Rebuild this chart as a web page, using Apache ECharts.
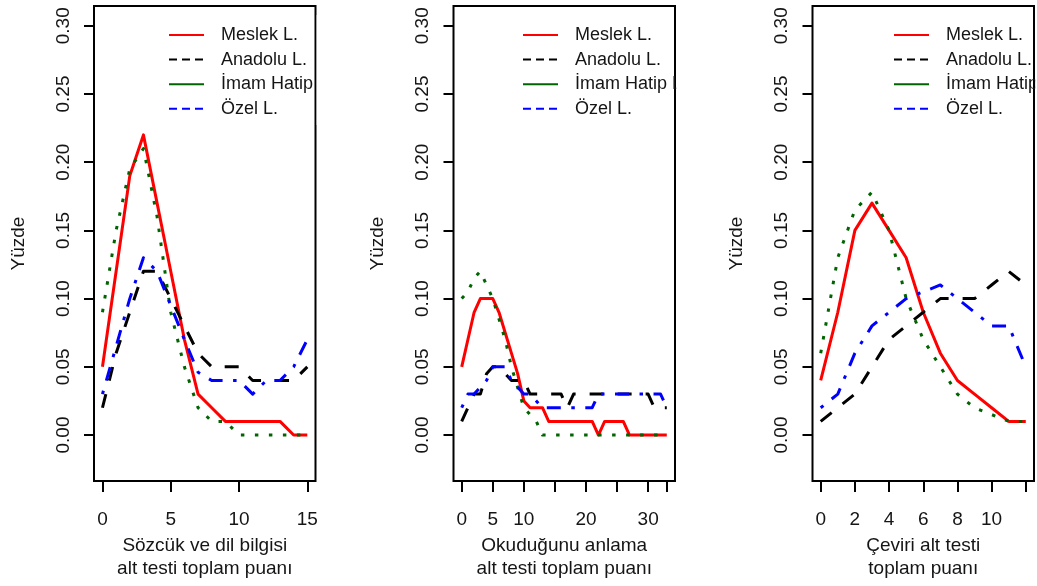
<!DOCTYPE html>
<html>
<head>
<meta charset="utf-8">
<script src="https://cdn.jsdelivr.net/npm/echarts@6/dist/echarts.min.js"></script>
<style>
html,body{margin:0;padding:0;background:#ffffff;}
#chart{width:1037px;height:586px;}
</style>
</head>
<body>
<div id="chart"></div>
<script>
// ---------- data ----------
const groupNames = ['Meslek L.', 'Anadolu L.', 'İmam Hatip L.', 'Özel L.'];

const p1X = [0,1,2,3,4,5,6,7,8,9,10,11,12,13,14,15];
const p1Meslek  = [0.05,0.12,0.19,0.22,0.17,0.12,0.07,0.03,0.02,0.01,0.01,0.01,0.01,0.01,0.00,0.00];
const p1Anadolu = [0.02,0.06,0.09,0.12,0.12,0.10,0.08,0.06,0.05,0.05,0.05,0.04,0.04,0.04,0.04,0.05];
const p1Imam    = [0.09,0.15,0.195,0.21,0.16,0.09,0.05,0.02,0.01,0.01,0.00,0.00,0.00,0.00,0.00,0.00];
const p1Ozel    = [0.03,0.065,0.10,0.13,0.12,0.095,0.07,0.046,0.04,0.04,0.04,0.03,0.04,0.04,0.05,0.07];

const p2X = [0,1,2,3,4,5,6,7,8,9,10,11,12,13,14,15,16,17,18,19,20,21,22,23,24,25,26,27,28,29,30,31,32,33];
const p2Meslek  = [0.05,0.07,0.09,0.10,0.10,0.10,0.09,0.075,0.06,0.045,0.025,0.02,0.02,0.02,0.01,0.01,0.01,0.01,0.01,0.01,0.01,0.01,0.00,0.01,0.01,0.01,0.01,0.00,0.00,0.00,0.00,0.00,0.00,0.00];
const p2Anadolu = [0.01,0.02,0.03,0.03,0.045,0.05,0.05,0.045,0.04,0.04,0.04,0.03,0.03,0.03,0.03,0.03,0.03,0.02,0.03,0.03,0.03,0.03,0.03,0.03,0.03,0.03,0.03,0.03,0.03,0.03,0.03,0.02,0.02,0.02];
const p2Imam    = [0.10,0.105,0.115,0.12,0.11,0.10,0.085,0.07,0.05,0.035,0.02,0.015,0.01,0.00,0.00,0.00,0.00,0.00,0.00,0.00,0.00,0.00,0.00,0.00,0.00,0.00,0.00,0.00,0.00,0.00,0.00,0.00,0.00,0.00];
const p2Ozel    = [0.02,0.03,0.03,0.035,0.04,0.05,0.05,0.05,0.04,0.035,0.03,0.03,0.025,0.02,0.02,0.02,0.02,0.02,0.02,0.02,0.02,0.02,0.03,0.03,0.03,0.03,0.03,0.03,0.03,0.03,0.03,0.03,0.03,0.02];

const p3X = [0,1,2,3,4,5,6,7,8,9,10,11,12];
const p3Meslek  = [0.04,0.09,0.15,0.17,0.15,0.13,0.09,0.06,0.04,0.03,0.02,0.01,0.01];
const p3Anadolu = [0.01,0.02,0.03,0.05,0.07,0.08,0.09,0.10,0.10,0.10,0.11,0.12,0.11];
const p3Imam    = [0.06,0.13,0.165,0.178,0.15,0.10,0.07,0.05,0.03,0.02,0.015,0.01,0.01];
const p3Ozel    = [0.02,0.03,0.06,0.08,0.09,0.10,0.105,0.11,0.10,0.09,0.08,0.08,0.05];

const yTicks = [0, 0.05, 0.10, 0.15, 0.20, 0.25, 0.30];
const p1XTicks = [0, 5, 10, 15];
const p1XLabels = [0, 5, 10, 15];
const p2XTicks = [0, 5, 10, 15, 20, 25, 30, 33];
const p2XLabels = [0, 5, 10, 20, 30];
const p3XTicks = [0, 2, 4, 6, 8, 10, 12];
const p3XLabels = [0, 2, 4, 6, 8, 10];

const xTitles = ['Sözcük ve dil bilgisi\nalt testi toplam puanı',
                 'Okuduğunu anlama\nalt testi toplam puanı',
                 'Çeviri alt testi\ntoplam puanı'];
const yTitle = 'Yüzde';

// ---------- styling ----------
const FONT = '"Liberation Sans", Arial, Helvetica, sans-serif';
const TXT = '#151515';
const colors = ['#ff0000', '#000000', '#006400', '#0000ff'];
const dashes = ['solid', [14, 14], [3.5, 10.5], [3.5, 10.5, 14, 10.5]];

const panels = [
  {x: p1X, ys: [p1Meslek, p1Anadolu, p1Imam, p1Ozel], min: -0.62, max: 15.6, ticks: p1XTicks, labels: p1XLabels, left: 94, legendLeft: 168},
  {x: p2X, ys: [p2Meslek, p2Anadolu, p2Imam, p2Ozel], min: -1.32, max: 34.32, ticks: p2XTicks, labels: p2XLabels, left: 453.5, legendLeft: 522},
  {x: p3X, ys: [p3Meslek, p3Anadolu, p3Imam, p3Ozel], min: -0.48, max: 12.48, ticks: p3XTicks, labels: p3XLabels, left: 812.5, legendLeft: 893}
];
const GW = 221.5, GTOP = 6, GH = 475;

const grids = [], xAxes = [], yAxes = [], series = [], legends = [], masks = [];
panels.forEach((p, k) => {
  grids.push({left: p.left, top: GTOP, width: GW, height: GH, show: true,
              borderColor: '#000', borderWidth: 2, backgroundColor: 'transparent'});
  xAxes.push({
    type: 'value', gridIndex: k, min: p.min, max: p.max, position: 'bottom',
    axisLine: {show: false, onZero: false},
    splitLine: {show: false},
    axisTick: {show: true, customValues: p.ticks, length: 11, inside: false,
               lineStyle: {color: '#000', width: 2}},
    axisLabel: {customValues: p.labels, margin: 29, fontSize: 19, color: TXT, fontFamily: FONT},
    name: xTitles[k], nameLocation: 'middle', nameGap: 49,
    nameTextStyle: {fontSize: 19, lineHeight: 23.5, color: TXT, fontFamily: FONT}
  });
  yAxes.push({
    type: 'value', gridIndex: k, min: -0.0337, max: 0.3145, position: 'left',
    axisLine: {show: false, onZero: false},
    splitLine: {show: false},
    axisTick: {show: true, customValues: yTicks, length: 10, inside: false,
               lineStyle: {color: '#000', width: 2}},
    axisLabel: {customValues: yTicks, rotate: 90, margin: 21, fontSize: 19, color: TXT, fontFamily: FONT,
                formatter: v => v.toFixed(2)},
    name: yTitle, nameLocation: 'middle', nameGap: 66, nameRotate: 90,
    nameTextStyle: {fontSize: 19, color: TXT, fontFamily: FONT}
  });
  p.ys.forEach((arr, s) => {
    series.push({
      type: 'line', name: groupNames[s], xAxisIndex: k, yAxisIndex: k,
      data: p.x.map((xv, i) => [xv, arr[i]]),
      symbol: 'none', showSymbol: false, silent: true, animation: false,
      lineStyle: {color: colors[s], width: 3, type: dashes[s], cap: 'butt', join: 'round'},
      itemStyle: {color: colors[s]},
      z: 2 + s
    });
  });
  legends.push({
    orient: 'vertical', left: p.legendLeft, top: 24, padding: 0,
    itemWidth: 35, itemHeight: 14, itemGap: 2.6, selectedMode: false,
    itemStyle: {color: 'rgba(0,0,0,0)', borderColor: 'rgba(0,0,0,0)', borderWidth: 0, opacity: 0},
    lineStyle: {width: 2, opacity: 1},
    textStyle: {fontSize: 18, lineHeight: 18, color: TXT, fontFamily: FONT, padding: [4, 0, 0, 12]},
    data: [
      {name: groupNames[0], lineStyle: {type: 'solid', width: 2}},
      {name: groupNames[1], lineStyle: {type: [8, 5], width: 2}},
      {name: groupNames[2], lineStyle: {type: 'solid', width: 2}},
      {name: groupNames[3], lineStyle: {type: [8, 5], width: 2}}
    ]
  });
  masks.push({type: 'rect', z: 100, silent: true,
              shape: {x: p.left + GW + 1.2, y: 15, width: 40, height: 110},
              style: {fill: '#ffffff'}});
});

const chart = echarts.init(document.getElementById('chart'), null, {renderer: 'canvas'});
chart.setOption({
  animation: false,
  backgroundColor: '#ffffff',
  textStyle: {fontFamily: FONT},
  grid: grids,
  xAxis: xAxes,
  yAxis: yAxes,
  legend: legends,
  series: series,
  graphic: {elements: masks}
});
</script>
</body>
</html>
